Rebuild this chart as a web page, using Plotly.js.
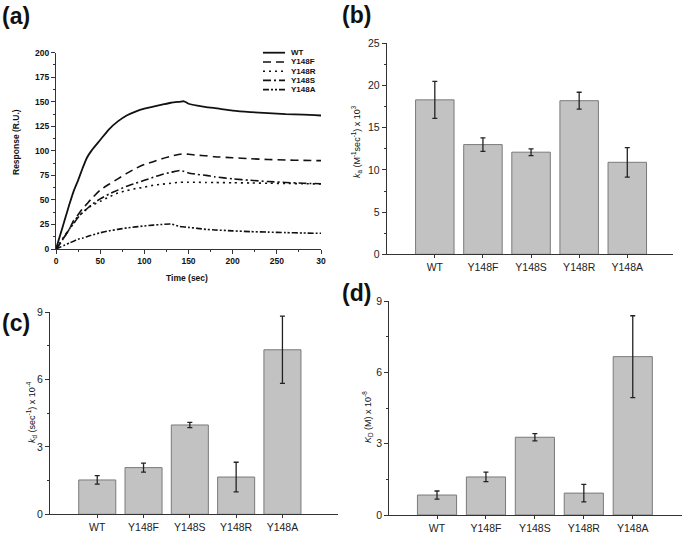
<!DOCTYPE html>
<html>
<head>
<meta charset="utf-8">
<script src="https://cdn.plot.ly/plotly-3.0.1.min.js"></script>
<style>html,body{margin:0;padding:0;background:#fff;}#chart{width:685px;height:533px;}</style>
</head>
<body>
<div id="chart"></div>
<script>
// ---- Panel (a): SPR sensorgrams ----
const timeSec = [0,5,10,15,20,25,30,35,40,50,60,70,80,90,100,110,120,130,140,145,150,160,170,180,200,220,240,260,280,300];
const respWT    = [0,15,30,45,59,70,82,93,100,111,122,130,136,140,143,145,147,149,150,150.5,148,146,144.5,143.5,141,139.5,138.5,137.5,137,136];
const respY148F = [0,6,13,20,29,35,41,46,51,60,66,71.5,77,82,86,89,92,94.5,96.5,97,96.5,95.5,95,94,93,92,91.2,90.7,90.3,90];
const respY148R = [0,7,14,20,28,33,37,41,44,48.5,53,57,59.5,61.5,63,65,66,67,68,68,68,68,67.8,67.7,67.5,67.3,67,66.8,66.5,66.3];
const respY148S = [0,6,13,20,26,32,37,41,45,51,56,60,64,67,70,73,76,78,80,79,77.5,76,75,73.5,71.5,70,68.7,67.8,67,66.5];
const respY148A = [0,2,4,6,8,10,11,12.5,14,16.5,18.5,20,21.5,22.5,23.5,24.3,25,25.5,23,22.5,22,21,20,19.4,18.5,17.7,17.2,16.7,16.3,16];
const seriesNames = ["WT","Y148F","Y148R","Y148S","Y148A"];
const xTickVals = [0,50,100,150,200,250,300];
const xTickText = ["0","50","100","150","200","250","30"];

// ---- Bar panels ----
const mutants = ["WT","Y148F","Y148S","Y148R","Y148A"];
const kaVals = [18.3,13.0,12.1,18.2,10.9];
const kaErr  = [2.2,0.8,0.4,1.0,1.75];
const kdVals = [1.53,2.08,3.98,1.66,7.33];
const kdErr  = [0.19,0.2,0.12,0.66,1.5];
const KDVals = [0.84,1.6,3.27,0.92,6.66];
const KDErr  = [0.17,0.2,0.15,0.37,1.72];

const FONT = "Liberation Sans, Arial, sans-serif";
const W = 685, H = 533;
const px = v => v / W;
const py = v => 1 - v / H;

const dashes = ["solid","8px,5px","2px,4px","8px,3px,2px,3px","6px,2px,2px,2px,2px,2px"];
const curves = [respWT, respY148F, respY148R, respY148S, respY148A];

const traces = curves.map((ys, i) => ({
  type: "scatter", mode: "lines", x: timeSec, y: ys, name: seriesNames[i],
  xaxis: "x", yaxis: "y", showlegend: false,
  line: {color: "#111", width: i === 0 ? 1.8 : 1.6, dash: dashes[i], shape: "spline", smoothing: 0.6}
}));

function barTrace(vals, errs, ax) {
  return {
    type: "bar", x: mutants, y: vals, xaxis: "x" + ax, yaxis: "y" + ax, showlegend: false,
    width: 0.8,
    marker: {color: "#c2c2c2", line: {color: "#7a7a7a", width: 1}},
    error_y: {type: "data", array: errs, visible: true, color: "#222", thickness: 1.3, width: 2.5}
  };
}
traces.push(barTrace(kaVals, kaErr, 2));
traces.push(barTrace(kdVals, kdErr, 3));
traces.push(barTrace(KDVals, KDErr, 4));

const axBase = {
  showline: true, linecolor: "#333", linewidth: 1, zeroline: false, showgrid: false,
  ticks: "outside", ticklen: 4, tickwidth: 1, tickcolor: "#333", fixedrange: true
};
const tickFontA = {family: FONT, size: 8.5, color: "#111", weight: "bold"};
const tickFontB = {family: FONT, size: 10.5, color: "#222"};

const layout = {
  width: W, height: H,
  margin: {l: 0, r: 0, t: 0, b: 0},
  paper_bgcolor: "#fff", plot_bgcolor: "rgba(0,0,0,0)",
  showlegend: false,
  xaxis: Object.assign({}, axBase, {
    domain: [px(56), px(321)], anchor: "y", range: [0, 300],
    tickmode: "array", tickvals: xTickVals, ticktext: xTickText, tickfont: tickFontA,
    minor: {tickmode: "array", tickvals: [25,75,125,175,225,275], ticklen: 2, tickcolor: "#333"}
  }),
  yaxis: Object.assign({}, axBase, {
    domain: [py(249), py(52.7)], anchor: "x", range: [0, 200],
    tickmode: "linear", tick0: 0, dtick: 25, tickfont: tickFontA,
    minor: {dtick: 12.5, ticklen: 2, tickcolor: "#333"}
  }),
  xaxis2: Object.assign({}, axBase, {
    domain: [px(386.7), px(673)], anchor: "y2", type: "category", range: [-1, 4.95],
    tickfont: tickFontB, ticklen: 3
  }),
  yaxis2: Object.assign({}, axBase, {
    domain: [py(254.3), py(43.3)], anchor: "x2", range: [0, 25],
    tickmode: "linear", tick0: 0, dtick: 5, tickfont: tickFontB,
    minor: {dtick: 2.5, ticklen: 2, tickcolor: "#333"}
  }),
  xaxis3: Object.assign({}, axBase, {
    domain: [px(50), px(338)], anchor: "y3", type: "category", range: [-1.02, 5.2],
    tickfont: tickFontB, ticklen: 3
  }),
  yaxis3: Object.assign({}, axBase, {
    domain: [py(514.3), py(312.3)], anchor: "x3", range: [0, 9],
    tickmode: "linear", tick0: 0, dtick: 3, tickfont: tickFontB,
    minor: {dtick: 1.5, ticklen: 2, tickcolor: "#333"}
  }),
  xaxis4: Object.assign({}, axBase, {
    domain: [px(389.3), px(681.7)], anchor: "y4", type: "category", range: [-0.975, 5.0],
    tickfont: tickFontB, ticklen: 3
  }),
  yaxis4: Object.assign({}, axBase, {
    domain: [py(515), py(301)], anchor: "x4", range: [0, 9],
    tickmode: "linear", tick0: 0, dtick: 3, tickfont: tickFontB,
    minor: {dtick: 1.5, ticklen: 2, tickcolor: "#333"}
  }),
  annotations: [],
  shapes: []
};

function ann(text, x, y, opts) {
  layout.annotations.push(Object.assign({
    text: text, x: px(x), y: py(y), xref: "paper", yref: "paper",
    showarrow: false, xanchor: "center", yanchor: "middle",
    font: {family: FONT, size: 9, color: "#111"}
  }, opts || {}));
}

// panel letters
const letterFont = {family: FONT, size: 23, color: "#111", weight: "bold"};
ann("(a)", 0, 16, {xanchor: "left", font: letterFont});
ann("(b)", 340, 15, {xanchor: "left", font: letterFont});
ann("(c)", 0, 323, {xanchor: "left", font: letterFont});
ann("(d)", 340, 293, {xanchor: "left", font: letterFont});

// axis titles
const boldSmall = {family: FONT, size: 8.5, color: "#111", weight: "bold"};
ann("Response (R.U.)", 16, 142, {textangle: -90, font: boldSmall});
ann("Time (sec)", 187, 278, {font: boldSmall});
ann("<i>k</i><sub>a</sub> (M<sup>-1</sup>sec<sup>-1</sup>) x 10<sup>3</sup>", 357, 142, {textangle: -90, font: {family: FONT, size: 9, color: "#111"}});
ann("<i>k</i><sub>d</sub> (sec<sup>-1</sup>) x 10<sup>-4</sup>", 31, 412, {textangle: -90, font: {family: FONT, size: 9, color: "#111"}});
ann("<i>K</i><sub>D</sub> (M) x 10<sup>-8</sup>", 367, 417, {textangle: -90, font: {family: FONT, size: 9, color: "#111"}});

// legend for panel (a)
const legRows = [52.7, 62, 71.2, 80.4, 89.6];
seriesNames.forEach((nm, i) => {
  layout.shapes.push({
    type: "line", xref: "paper", yref: "paper",
    x0: px(263), x1: px(285), y0: py(legRows[i]), y1: py(legRows[i]),
    line: {color: "#111", width: i === 0 ? 1.8 : 1.6, dash: dashes[i]}
  });
  ann(nm, 289, legRows[i], {xanchor: "left", font: {family: FONT, size: 8, color: "#111", weight: "bold"}});
});

Plotly.newPlot("chart", traces, layout, {staticPlot: true, displayModeBar: false});
</script>
</body>
</html>
